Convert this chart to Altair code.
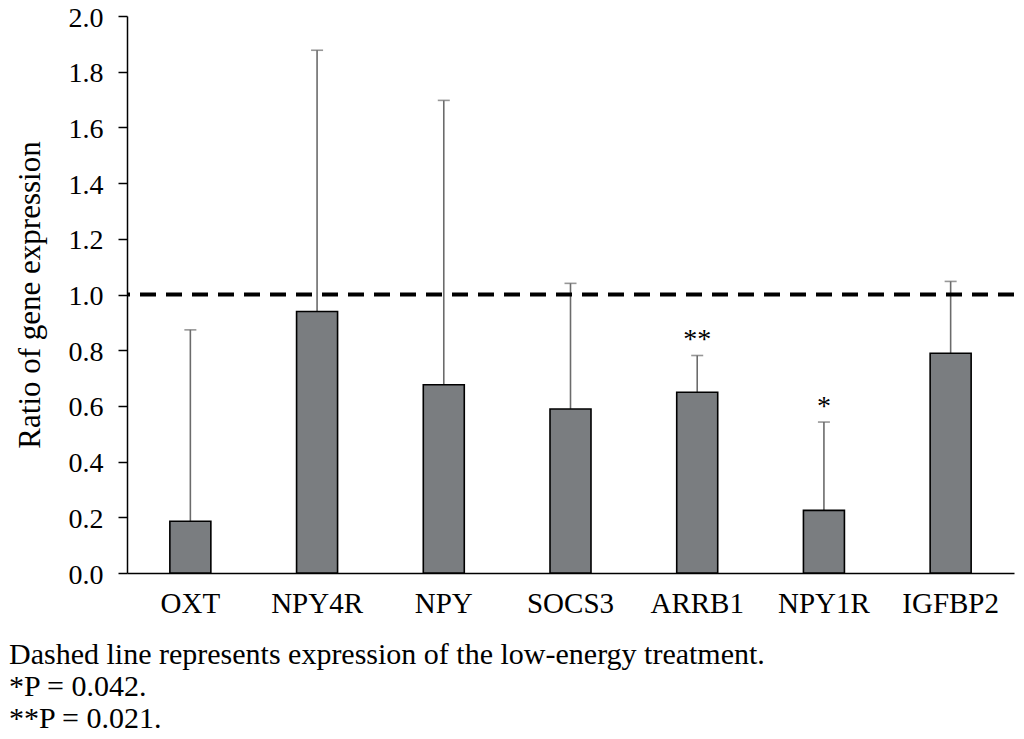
import altair as alt
import pandas as pd

genes = ["OXT", "NPY4R", "NPY", "SOCS3", "ARRB1", "NPY1R", "IGFBP2"]
ratio = [0.186, 0.939, 0.676, 0.589, 0.649, 0.225, 0.789]
upper = [0.873, 1.877, 1.697, 1.040, 0.781, 0.542, 1.047]
stars = ["", "", "", "", "**", "*", ""]

footnotes = [
    "Dashed line represents expression of the low-energy treatment.",
    "*P = 0.042.",
    "**P = 0.021.",
]

df = pd.DataFrame({"gene": genes, "ratio": ratio, "upper": upper, "star": stars})

FONT = "Liberation Serif"

x = alt.X("gene:N", sort=genes, title=None,
          scale=alt.Scale(paddingInner=0.676, paddingOuter=0.338),
          axis=alt.Axis(labelAngle=0, ticks=False, labelFontSize=29, labelFont=FONT,
                        labelColor="black", labelPadding=16, domainColor="black",
                        domainWidth=1.5))
y = alt.Y("ratio:Q", title="Ratio of gene expression",
          scale=alt.Scale(domain=[0, 2]),
          axis=alt.Axis(values=[0, 0.2, 0.4, 0.6, 0.8, 1.0, 1.2, 1.4, 1.6, 1.8, 2.0],
                        format=".1f", grid=False, tickSize=9, tickColor="black",
                        tickWidth=1.5, domainColor="black", domainWidth=1.5,
                        labelFontSize=28, labelFont=FONT, labelColor="black",
                        labelPadding=15, labelOffset=2, titleFont=FONT, titleFontSize=31,
                        titleFontWeight="normal", titleColor="black", titlePadding=22))

base = alt.Chart(df)

err = base.mark_rule(color="#6b6b6b", strokeWidth=1.6).encode(
    x=x, y=y, y2="upper:Q")
cap = base.mark_tick(color="#6b6b6b", thickness=1.6, size=12, orient="horizontal").encode(
    x=x, y=alt.Y("upper:Q"))
bars = base.mark_bar(color="#7a7d80", stroke="black", strokeWidth=1.6, size=41).encode(
    x=x, y=y)
star_txt = base.mark_text(font=FONT, fontSize=28, baseline="bottom", dy=-1, color="black").encode(
    x=x, y=alt.Y("upper:Q"), text="star:N")
dash = alt.Chart(pd.DataFrame({"ref": [1.0]})).mark_rule(
    color="black", strokeWidth=4, strokeDash=[16, 10]).encode(y="ref:Q")

chart = alt.layer(err, cap, bars, dash, star_txt).properties(
    width=887, height=557,
    padding={"left": 119, "top": 8, "right": 1, "bottom": 156},
    autosize=alt.AutoSizeParams(type="none"),
    title=alt.TitleParams(text=footnotes, orient="bottom", anchor="start", frame="group",
                          dx=-118, font=FONT, fontSize=30, fontWeight="normal",
                          color="black", lineHeight=32, offset=22),
).configure_view(stroke=None)

chart.save("out.html", embed_options={"renderer": "svg", "actions": False})
